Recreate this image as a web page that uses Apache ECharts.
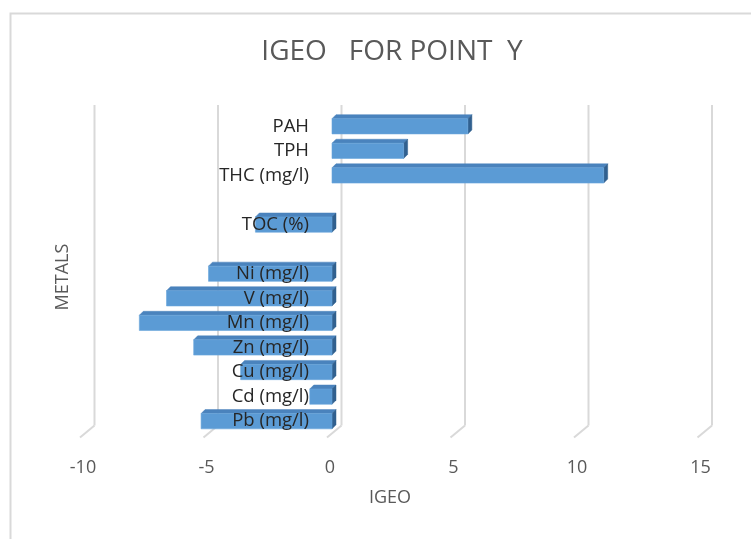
<!DOCTYPE html>
<html>
<head>
<meta charset="utf-8">
<script src="https://cdn.jsdelivr.net/npm/echarts@6/dist/echarts.min.js"></script>
<style>
  html, body { margin: 0; padding: 0; background: #fff; }
  #chart { width: 751px; height: 539px; }
</style>
</head>
<body>
<div id="chart"></div>
<script>
// Categories from bottom to top; empty strings are spacer rows.
const categories = ['Pb (mg/l)', 'Cd (mg/l)', 'Cu (mg/l)', 'Zn (mg/l)', 'Mn (mg/l)', 'V (mg/l)', 'Ni (mg/l)', '', 'TOC (%)', '', 'THC (mg/l)', 'TPH', 'PAH'];
const igeoValues = [-5.3, -0.9, -3.7, -5.6, -7.8, -6.7, -5.0, null, -3.1, null, 11.0, 2.9, 5.5];
const xTicks = [-10, -5, 0, 5, 10, 15];

const FONT = '"Open Sans", "Noto Sans", sans-serif';
const GRID_COLOR = '#d9d9d9';

const X_MIN = -10, X_MAX = 15;
const GRID_LEFT = 85, GRID_WIDTH = 617.5;
// Category labels sit next to the zero line rather than at the grid edge.
const ZERO_SHIFT = (0 - X_MIN) / (X_MAX - X_MIN) * GRID_WIDTH;

const chart = echarts.init(document.getElementById('chart'));

// Back-wall gridlines with the floor edge, drawn in a shallow 3D projection.
function renderGridline(params, api) {
  const cs = params.coordSys;
  const x = api.coord([api.value(0), 0])[0];
  const back = 9.5, front = -5;
  const topY = cs.y - 9;
  const backBottom = cs.y + cs.height - 8;
  const frontBottom = cs.y + cs.height + 4;
  const style = { stroke: GRID_COLOR, lineWidth: 2, fill: null };
  return {
    type: 'group',
    children: [
      { type: 'line', shape: { x1: x + back, y1: topY, x2: x + back, y2: backBottom }, style },
      { type: 'line', shape: { x1: x + back, y1: backBottom, x2: x + front, y2: frontBottom }, style }
    ]
  };
}

// 3D-looking horizontal bar: front face, top face and right side face.
function renderBar(params, api) {
  const v = api.value(0);
  if (v == null || isNaN(v)) return;
  const cat = api.value(1);
  const p0 = api.coord([0, cat]);
  const p1 = api.coord([v, cat]);
  const h = api.size([0, 1])[1] * 0.62;
  const d = 4;
  const xl = Math.min(p0[0], p1[0]);
  const xr = Math.max(p0[0], p1[0]);
  const yt = p0[1] - h / 2;
  const yb = p0[1] + h / 2;
  return {
    type: 'group',
    children: [
      { type: 'polygon', shape: { points: [[xl, yt], [xr, yt], [xr + d, yt - d], [xl + d, yt - d]] },
        style: { fill: '#4a83bd', stroke: '#4a83bd', lineWidth: 0.5 } },
      { type: 'polygon', shape: { points: [[xr, yt], [xr + d, yt - d], [xr + d, yb - d], [xr, yb]] },
        style: { fill: '#31608f', stroke: '#31608f', lineWidth: 0.5 } },
      { type: 'rect', shape: { x: xl, y: yt, width: xr - xl, height: yb - yt },
        style: { fill: '#5b9bd5', stroke: '#6aa6dc', lineWidth: 0.6 } }
    ]
  };
}

const option = {
  backgroundColor: '#ffffff',
  animation: false,
  title: {
    text: 'IGEO   FOR POINT  Y',
    left: 387,
    textAlign: 'center',
    top: 33,
    textStyle: { fontFamily: FONT, fontSize: 28, fontWeight: 'normal', color: '#595959' }
  },
  grid: { left: GRID_LEFT, width: GRID_WIDTH, top: 114, height: 319.5, containLabel: false, outerBoundsMode: 'none' },
  xAxis: {
    type: 'value',
    min: X_MIN,
    max: X_MAX,
    interval: 5,
    axisLine: { show: false },
    axisTick: { show: false },
    splitLine: { show: false },
    axisLabel: {
      margin: 25,
      padding: [0, 4, 0, 0],
      fontFamily: FONT,
      fontSize: 18,
      color: '#595959'
    }
  },
  yAxis: {
    type: 'category',
    data: categories,
    z: 10,
    position: 'left',
    offset: -ZERO_SHIFT,
    axisLine: { show: false, onZero: false },
    axisTick: { show: false },
    splitLine: { show: false },
    axisLabel: {
      interval: 0,
      hideOverlap: false,
      margin: 23,
      padding: [10, 0, 0, 0],
      fontFamily: FONT,
      fontSize: 18.5,
      color: '#262626'
    }
  },
  series: [
    {
      type: 'custom',
      name: 'grid',
      z: 1,
      silent: true,
      renderItem: renderGridline,
      encode: { x: 0 },
      data: xTicks.map(t => [t])
    },
    {
      type: 'custom',
      name: 'IGEO',
      z: 3,
      renderItem: renderBar,
      encode: { x: 0, y: 1 },
      data: igeoValues.map((v, i) => [v, i])
    }
  ],
  graphic: [
    { type: 'rect', left: 8, top: 11, shape: { width: 760, height: 540 },
      style: { fill: null, stroke: GRID_COLOR, lineWidth: 2 }, silent: true },
    { type: 'text', x: 390, y: 498,
      style: { text: 'IGEO', font: '18px ' + FONT, fill: '#595959', align: 'center', verticalAlign: 'middle' } },
    { type: 'text', x: 63, y: 277, rotation: Math.PI / 2,
      style: { text: 'METALS', font: '18px ' + FONT, fill: '#595959', align: 'center', verticalAlign: 'middle' } }
  ]
};

chart.setOption(option);
</script>
</body>
</html>
